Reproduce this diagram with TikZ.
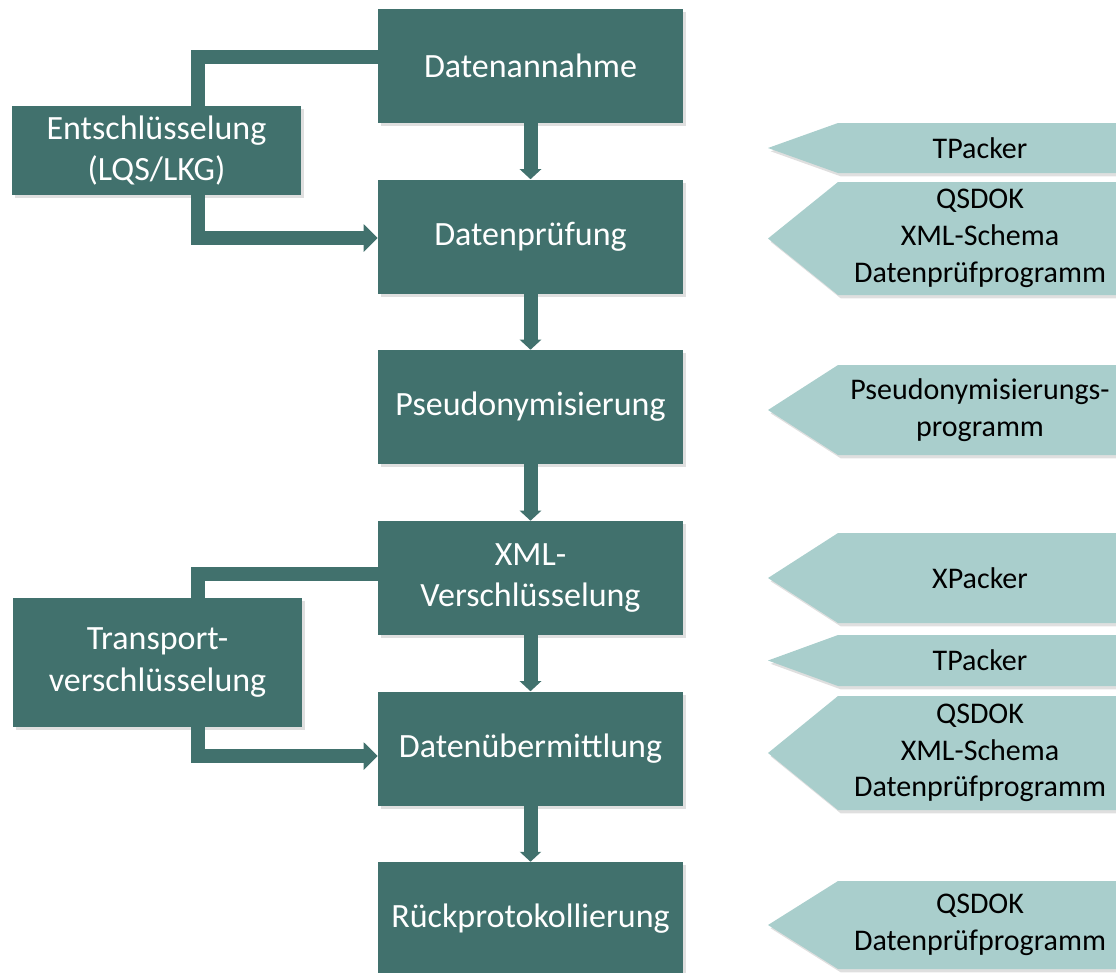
\documentclass[tikz,border=0pt]{standalone}
\usepackage{fontspec}
\setmainfont{Carlito}
\usetikzlibrary{arrows.meta,calc,shadows}
\definecolor{petrol}{RGB}{65,113,109}
\definecolor{mint}{RGB}{169,206,204}

\begin{document}
\begin{tikzpicture}[x=0.75pt,y=-0.75pt,
  schatten/.style={drop shadow={shadow xshift=2pt,shadow yshift=-2.5pt,opacity=0.25}},
  schritt/.style={fill=petrol,text=white,schatten,align=center,inner sep=0pt,
    minimum width=228.75pt,minimum height=85.5pt,font=\fontsize{25.5}{31}\selectfont},
  neben/.style={schritt,minimum width=216.75pt},
  werkzeug/.style={fill=mint,schatten},
  wtext/.style={align=center,font=\fontsize{22.5}{27.5}\selectfont},
  abwaerts/.style={draw=petrol,line width=10.5pt,-{Triangle[length=7.5pt,width=15.75pt]}},
  zweig/.style={draw=petrol,line width=10pt},
  spitze/.style={-{Triangle[length=10.5pt,width=20pt]}}]
  \useasboundingbox (0,0) rectangle (1116,972);

  % Ablauf
  \node[schritt] (annahme) at (530.5,66) {Datenannahme};
  \node[schritt] (pruefung) at (530.5,236.5) {Datenprüfung};
  \node[schritt] (pseudo) at (530.5,407) {Pseudonymisierung};
  \node[schritt] (xmlver) at (530.5,578) {XML-\\Verschlüsselung};
  \node[schritt] (uebermittlung) at (530.5,748.5) {Datenübermittlung};
  \node[schritt] (rueck) at (530.5,919) {Rückprotokollierung};
  \foreach \a/\b in {annahme/pruefung, pruefung/pseudo, pseudo/xmlver,
    xmlver/uebermittlung, uebermittlung/rueck} { \draw[abwaerts] (\a) -- (\b); }

  % Nebenschritte links
  \node[neben,minimum height=66.75pt] (entschl) at (156.5,150.5) {Entschlüsselung\\(LQS/LKG)};
  \node[neben,minimum height=96.75pt] (transport) at (157.5,662.5) {Transport-\\verschlüsselung};
  \draw[zweig] ($(annahme.west)+(0,-9)$) -| ($(entschl.north)+(41.5,0)$);
  \draw[zweig,spitze] ($(entschl.south)+(41.5,0)$) |- ($(pruefung.west)+(0,1.5)$);
  \draw[zweig] ($(xmlver.west)+(0,-4)$) -| ($(transport.north)+(40.5,0)$);
  \draw[zweig,spitze] ($(transport.south)+(40.5,0)$) |- ($(uebermittlung.west)+(0,7.5)$);

  % Werkzeuge rechts
  \foreach \oben/\unten/\name/\inhalt in {123/173/tpackera/TPacker,
    182/295/qsdoka/{QSDOK\\XML-Schema\\Datenprüfprogramm},
    365/455/pseudoprog/{Pseudonymisierungs-\\programm},
    533/623/xpacker/XPacker, 635/686/tpackerb/TPacker,
    696/810/qsdokb/{QSDOK\\XML-Schema\\Datenprüfprogramm},
    881/969/qsdokc/{QSDOK\\Datenprüfprogramm}} {
    \fill[werkzeug] (1122,\oben) -- (838,\oben) -- (768,{(\oben+\unten)/2})
    -- (838,\unten) -- (1122,\unten) -- cycle;
    \node[wtext] (\name) at (980,{(\oben+\unten)/2}) {\inhalt};
  }
\end{tikzpicture}
\end{document}
